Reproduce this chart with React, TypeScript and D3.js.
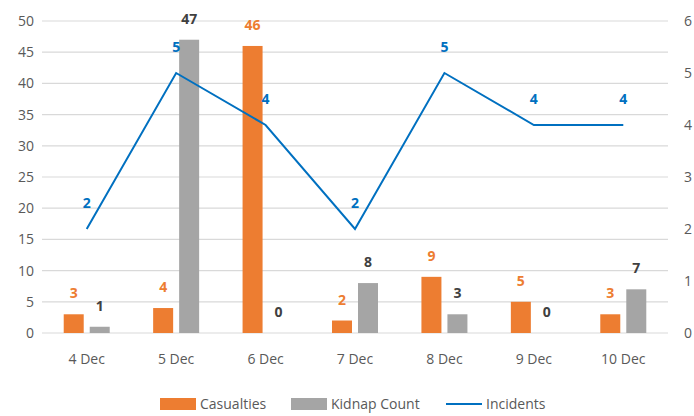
import { useEffect, useRef } from 'react';
import * as d3 from 'd3';

const DAYS = ['4 Dec', '5 Dec', '6 Dec', '7 Dec', '8 Dec', '9 Dec', '10 Dec'];
const CASUALTIES = [3, 4, 46, 2, 9, 5, 3];
const KIDNAPS = [1, 47, 0, 8, 3, 0, 7];
const INCIDENTS = [2, 5, 4, 2, 5, 4, 4];
const LEFT_TICKS = [0, 5, 10, 15, 20, 25, 30, 35, 40, 45, 50];
const RIGHT_TICKS = [0, 1, 2, 3, 4, 5, 6];

const COLORS = {
  casualties: '#ED7D31',
  kidnap: '#A5A5A5',
  incidents: '#0070C0',
  grid: '#D9D9D9',
  axisText: '#595959',
  kidnapLabel: '#404040',
};

const WIDTH = 694;
const HEIGHT = 416;
const FONT = '"Open Sans", "Noto Sans", sans-serif';

export default function App() {
  const svgRef = useRef<SVGSVGElement>(null);

  useEffect(() => {
    if (!svgRef.current) return;
    const svg = d3.select(svgRef.current);
    svg.selectAll('*').remove();

    const margin = { top: 21, right: 26, bottom: 83, left: 42 };
    const innerWidth = WIDTH - margin.left - margin.right;
    const innerHeight = HEIGHT - margin.top - margin.bottom;

    const x = d3.scaleBand().domain(DAYS).range([0, innerWidth]).padding(0);
    const yLeft = d3.scaleLinear().domain([0, 50]).range([innerHeight, 0]);
    const yRight = d3.scaleLinear().domain([0, 6]).range([innerHeight, 0]);

    const barW = 20;
    const gap = 3;
    const center = (d: string) => (x(d) || 0) + x.bandwidth() / 2;

    const g = svg.append('g').attr('transform', `translate(${margin.left},${margin.top})`);

    // Grid lines
    g.append('g')
      .selectAll('line')
      .data(LEFT_TICKS)
      .join('line')
      .attr('x1', 0)
      .attr('x2', innerWidth)
      .attr('y1', d => yLeft(d))
      .attr('y2', d => yLeft(d))
      .attr('stroke', COLORS.grid)
      .attr('stroke-width', 1.2);

    // Left axis labels
    g.append('g')
      .selectAll('text')
      .data(LEFT_TICKS)
      .join('text')
      .attr('x', -8)
      .attr('y', d => yLeft(d))
      .attr('dy', '0.35em')
      .attr('text-anchor', 'end')
      .attr('font-size', '14px')
      .attr('fill', COLORS.axisText)
      .text(d => d);

    // Right axis labels
    g.append('g')
      .selectAll('text')
      .data(RIGHT_TICKS)
      .join('text')
      .attr('x', innerWidth + 16)
      .attr('y', d => yRight(d))
      .attr('dy', '0.35em')
      .attr('text-anchor', 'start')
      .attr('font-size', '14px')
      .attr('fill', COLORS.axisText)
      .text(d => d);

    // Category labels
    g.append('g')
      .selectAll('text')
      .data(DAYS)
      .join('text')
      .attr('x', d => center(d))
      .attr('y', innerHeight + 26)
      .attr('dy', '0.35em')
      .attr('text-anchor', 'middle')
      .attr('font-size', '14px')
      .attr('fill', COLORS.axisText)
      .text(d => d);

    // Casualty bars
    g.append('g')
      .selectAll('rect')
      .data(CASUALTIES)
      .join('rect')
      .attr('x', (_, i) => center(DAYS[i]) - gap - barW)
      .attr('y', d => yLeft(d))
      .attr('width', barW)
      .attr('height', d => innerHeight - yLeft(d))
      .attr('fill', COLORS.casualties);

    // Kidnap bars
    g.append('g')
      .selectAll('rect')
      .data(KIDNAPS)
      .join('rect')
      .attr('x', (_, i) => center(DAYS[i]) + gap)
      .attr('y', d => yLeft(d))
      .attr('width', barW)
      .attr('height', d => innerHeight - yLeft(d))
      .attr('fill', COLORS.kidnap);

    // Bar labels
    g.append('g')
      .selectAll('text')
      .data(CASUALTIES)
      .join('text')
      .attr('x', (_, i) => center(DAYS[i]) - gap - barW / 2)
      .attr('y', d => yLeft(d) - 16)
      .attr('text-anchor', 'middle')
      .attr('font-size', '14px')
      .attr('font-weight', '700')
      .attr('fill', COLORS.casualties)
      .text(d => d);

    g.append('g')
      .selectAll('text')
      .data(KIDNAPS)
      .join('text')
      .attr('x', (_, i) => center(DAYS[i]) + gap + barW / 2)
      .attr('y', d => yLeft(d) - 16)
      .attr('text-anchor', 'middle')
      .attr('font-size', '14px')
      .attr('font-weight', '700')
      .attr('fill', COLORS.kidnapLabel)
      .text(d => d);

    // Incidents line
    const line = d3.line<number>()
      .x((_, i) => center(DAYS[i]))
      .y(d => yRight(d));

    g.append('path')
      .datum(INCIDENTS)
      .attr('d', line)
      .attr('fill', 'none')
      .attr('stroke', COLORS.incidents)
      .attr('stroke-width', 2);

    g.append('g')
      .selectAll('text')
      .data(INCIDENTS)
      .join('text')
      .attr('x', (_, i) => center(DAYS[i]))
      .attr('y', d => yRight(d) - 21)
      .attr('text-anchor', 'middle')
      .attr('font-size', '14px')
      .attr('font-weight', '700')
      .attr('fill', COLORS.incidents)
      .text(d => d);

    // Legend
    const legend = svg.append('g').attr('transform', `translate(0, 404)`);
    legend.append('rect').attr('x', 160).attr('y', -6).attr('width', 36).attr('height', 12).attr('fill', COLORS.casualties);
    legend.append('text').attr('x', 200).attr('y', 0).attr('dy', '0.35em').attr('font-size', '14px').attr('fill', COLORS.axisText).text('Casualties');
    legend.append('rect').attr('x', 291).attr('y', -6).attr('width', 36).attr('height', 12).attr('fill', COLORS.kidnap);
    legend.append('text').attr('x', 331).attr('y', 0).attr('dy', '0.35em').attr('font-size', '14px').attr('fill', COLORS.axisText).text('Kidnap Count');
    legend.append('line').attr('x1', 446).attr('x2', 482).attr('y1', 0).attr('y2', 0).attr('stroke', COLORS.incidents).attr('stroke-width', 2);
    legend.append('text').attr('x', 486).attr('y', 0).attr('dy', '0.35em').attr('font-size', '14px').attr('fill', COLORS.axisText).text('Incidents');
  }, []);

  return (
    <svg
      ref={svgRef}
      width={WIDTH}
      height={HEIGHT}
      style={{ position: 'absolute', left: 0, top: 0, fontFamily: FONT, background: '#fff' }}
    />
  );
}
